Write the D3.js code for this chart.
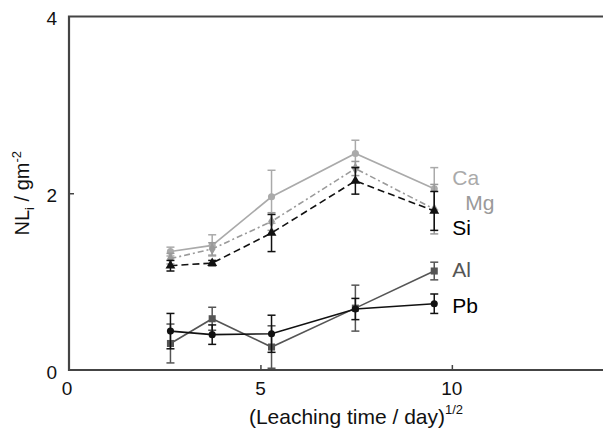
<!DOCTYPE html>
<html>
<head>
<meta charset="utf-8">
<script src="https://cdn.jsdelivr.net/npm/d3@7"></script>
<style>
  html, body { margin: 0; padding: 0; background: #fff; }
  svg { display: block; font-family: "Liberation Sans", Arial, sans-serif; }
</style>
</head>
<body>
<svg id="chart" width="603" height="433"></svg>
<script>
// Square root of leaching time (days 7, 14, 28, 56, 91)
const sqrtTime = [2.65, 3.74, 5.29, 7.48, 9.54];

// Normalised mass loss per element, with error half-widths
const caValues = [1.34, 1.41, 1.96, 2.45, 2.05];
const caErrors = [0.05, 0.12, 0.30, 0.15, 0.24];
const mgValues = [1.26, 1.37, 1.68, 2.28, 1.82];
const mgErrors = [0.06, 0.07, 0.10, 0.08, 0.28];
const siValues = [1.18, 1.21, 1.55, 2.14, 1.80];
const siErrors = [0.06, 0.03, 0.21, 0.15, 0.22];
const alValues = [0.30, 0.58, 0.26, 0.70, 1.12];
const alErrors = [0.22, 0.13, 0.24, 0.26, 0.10];
const pbValues = [0.44, 0.40, 0.41, 0.69, 0.75];
const pbErrors = [0.20, 0.11, 0.21, 0.12, 0.11];

const xTicks = [0, 5, 10];
const yTicks = [0, 2, 4];

const series = [
  { name: "Ca", values: caValues, errors: caErrors, color: "#aaaaaa", dash: null, marker: "circle", labelDx: 18, labelDy: -4 },
  { name: "Mg", values: mgValues, errors: mgErrors, color: "#9a9a9a", dash: "6,3,2,3", marker: "diamond", labelDx: 31, labelDy: 1 },
  { name: "Si", values: siValues, errors: siErrors, color: "#111111", dash: "7,4", marker: "triangle", labelDx: 18, labelDy: 24 },
  { name: "Al", values: alValues, errors: alErrors, color: "#555555", dash: null, marker: "square", labelDx: 18, labelDy: 6 },
  { name: "Pb", values: pbValues, errors: pbErrors, color: "#111111", dash: null, marker: "circle", labelDx: 18, labelDy: 9 }
];

const svg = d3.select("#chart");
const x = d3.scaleLinear().domain([0, 14]).range([69, 605]);
const y = d3.scaleLinear().domain([0, 4]).range([370, 16.5]);

// Axes with inward ticks
const axisColor = "#444";
const xAxis = svg.append("g").attr("transform", `translate(0,${y(0)})`)
  .call(d3.axisTop(x).tickValues(xTicks.filter(d => d > 0)).tickSize(5).tickFormat(""));
xAxis.select(".domain").remove();
xAxis.selectAll("line").attr("stroke", axisColor).attr("stroke-width", 1.5);

const yAxis = svg.append("g").attr("transform", `translate(${x(0)},0)`)
  .call(d3.axisRight(y).tickValues(yTicks.filter(d => d > 0 && d < 4)).tickSize(5).tickFormat(""));
yAxis.select(".domain").remove();
yAxis.selectAll("line").attr("stroke", axisColor).attr("stroke-width", 1.5);

// Frame: left, bottom and top lines
svg.append("path")
  .attr("d", `M${x(14)},${y(4)} H${x(0)} V${y(0)} H${x(14)}`)
  .attr("fill", "none").attr("stroke", axisColor).attr("stroke-width", 2.2);

// Tick labels
svg.selectAll(".xlab").data(xTicks).enter().append("text")
  .attr("x", d => x(d) - (d === 0 ? 2 : 0)).attr("y", y(0) + 25)
  .attr("text-anchor", "middle").attr("font-size", 19).attr("fill", "#111")
  .text(d => d);
svg.selectAll(".ylab").data(yTicks).enter().append("text")
  .attr("x", x(0) - 12).attr("y", d => y(d) + 8.5)
  .attr("text-anchor", "end").attr("font-size", 19).attr("fill", "#111")
  .text(d => d);

// Axis titles
const xt = svg.append("text").attr("x", 356).attr("y", 424)
  .attr("text-anchor", "middle").attr("font-size", 21).attr("fill", "#111");
xt.append("tspan").text("(Leaching time / day)");
xt.append("tspan").attr("font-size", 13).attr("dy", -10).text("1/2");

const yt = svg.append("text")
  .attr("transform", `translate(29,${y(2)}) rotate(-90)`)
  .attr("text-anchor", "middle").attr("font-size", 20).attr("fill", "#111");
yt.append("tspan").text("NL");
yt.append("tspan").attr("font-size", 13).attr("dy", 5).text("i");
yt.append("tspan").attr("dy", -5).text(" / gm");
yt.append("tspan").attr("font-size", 13).attr("dy", -8).text("-2");

const symbolType = { circle: d3.symbolCircle, diamond: d3.symbolDiamond, triangle: d3.symbolTriangle, square: d3.symbolSquare };
const symbolSize = { circle: 40, diamond: 40, triangle: 42, square: 50 };

const line = d3.line().x((d, i) => x(sqrtTime[i])).y(d => y(d));
const cap = 4;

series.forEach(s => {
  const g = svg.append("g");
  // Error bars
  s.values.forEach((v, i) => {
    const cx = x(sqrtTime[i]);
    const lo = y(v - s.errors[i]), hi = y(v + s.errors[i]);
    g.append("line").attr("x1", cx).attr("x2", cx).attr("y1", lo).attr("y2", hi)
      .attr("stroke", s.color).attr("stroke-width", 1.5);
    [lo, hi].forEach(yy => g.append("line")
      .attr("x1", cx - cap).attr("x2", cx + cap).attr("y1", yy).attr("y2", yy)
      .attr("stroke", s.color).attr("stroke-width", 1.5));
  });
  // Connecting line
  g.append("path").datum(s.values).attr("d", line)
    .attr("fill", "none").attr("stroke", s.color).attr("stroke-width", 1.6)
    .attr("stroke-dasharray", s.dash);
  // Markers
  g.selectAll("path.m").data(s.values).enter().append("path").attr("class", "m")
    .attr("transform", (d, i) => `translate(${x(sqrtTime[i])},${y(d)})`)
    .attr("d", d3.symbol().type(symbolType[s.marker]).size(symbolSize[s.marker]))
    .attr("fill", s.color);
  // Series label beside last point
  const last = s.values.length - 1;
  g.append("text")
    .attr("x", x(sqrtTime[last]) + s.labelDx)
    .attr("y", y(s.values[last]) + s.labelDy)
    .attr("font-size", 21).attr("fill", s.color === "#111111" ? "#000" : s.color)
    .text(s.name);
});
</script>
</body>
</html>
